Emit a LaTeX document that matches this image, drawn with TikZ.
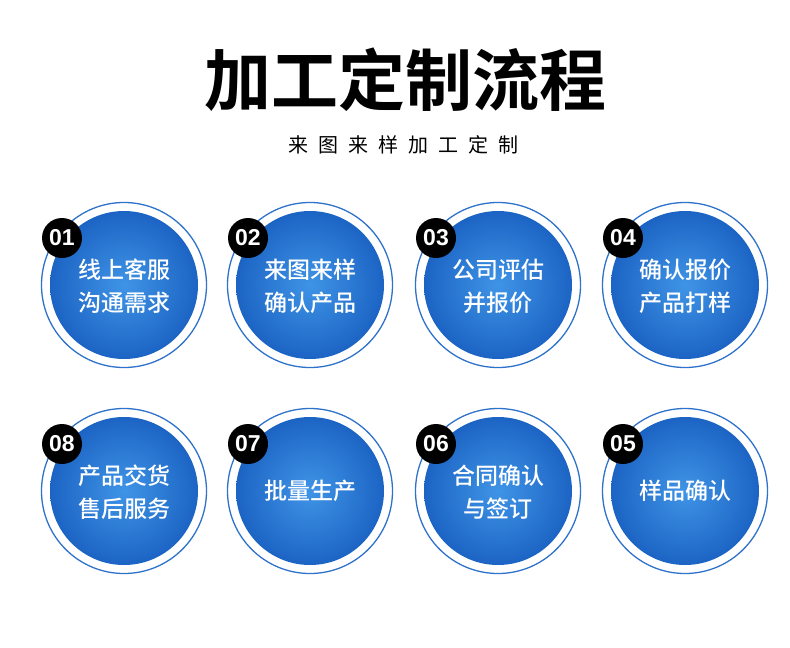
\documentclass[tikz,border=0pt]{standalone}
\usepackage{fontspec}
\setmainfont{Noto Sans CJK SC}
\newfontfamily\cjk{Noto Sans CJK SC Medium}
\newfontfamily\cjklight{Noto Sans CJK SC}
\newfontfamily\cjkbold{Noto Sans CJK SC Bold}
\newfontfamily\numfont{Liberation Sans}
\definecolor{ringblue}{HTML}{2F72CC}
\definecolor{fillin}{HTML}{3F94E6}
\definecolor{fillout}{HTML}{1C64C4}
\tikzset{
  ring/.style={circle, draw=ringblue, line width=1.3pt, fill=white, minimum size=165pt, inner sep=0pt},
  disc/.style={circle, inner color=fillin, outer color=fillout, minimum size=148pt, inner sep=0pt},
  badge/.style={circle, fill=black, minimum size=40pt, inner sep=0pt, text=white, font=\numfont\bfseries\fontsize{23}{23}\selectfont},
  label/.style={text=white, font=\cjk\fontsize{23}{23}\selectfont, align=center}
}
\begin{document}
\begin{tikzpicture}[x=1pt,y=-1pt]
\useasboundingbox (0,0) rectangle (790,648);
\fill[white] (0,0) rectangle (790,648);
\node[font=\cjkbold\fontsize{67}{67}\selectfont] (title) at (405,80) {加工定制流程};
\node[font=\cjklight\fontsize{20}{20}\selectfont\addfontfeature{LetterSpace=50}] (sub) at (403,145) {来图来样加工定制};
% step circles
\foreach \n/\x/\y/\num in {
  a/124/285/01, b/310/285/02, c/498/285/03, d/685/285/04,
  h/124/491/08, g/310/491/07, f/498/491/06, e/685/491/05}{
  \node[ring] (r\n) at (\x,\y) {};
  \node[disc] (d\n) at (\x,\y) {};
  \node[badge] (b\n) at (\x-62,\y-47) {\num};
}
\node[label] (ta1) at (124,270) {线上客服};
\node[label] (ta2) at (124,303) {沟通需求};
\node[label] (tb1) at (310,270) {来图来样};
\node[label] (tb2) at (310,303) {确认产品};
\node[label] (tc1) at (498,270) {公司评估};
\node[label] (tc2) at (498,303) {并报价};
\node[label] (td1) at (685,270) {确认报价};
\node[label] (td2) at (685,303) {产品打样};
\node[label] (th1) at (124,476) {产品交货};
\node[label] (th2) at (124,509) {售后服务};
\node[label] (tg1) at (310,491) {批量生产};
\node[label] (tf1) at (498,476) {合同确认};
\node[label] (tf2) at (498,509) {与签订};
\node[label] (te1) at (685,491) {样品确认};
\end{tikzpicture}
\end{document}
